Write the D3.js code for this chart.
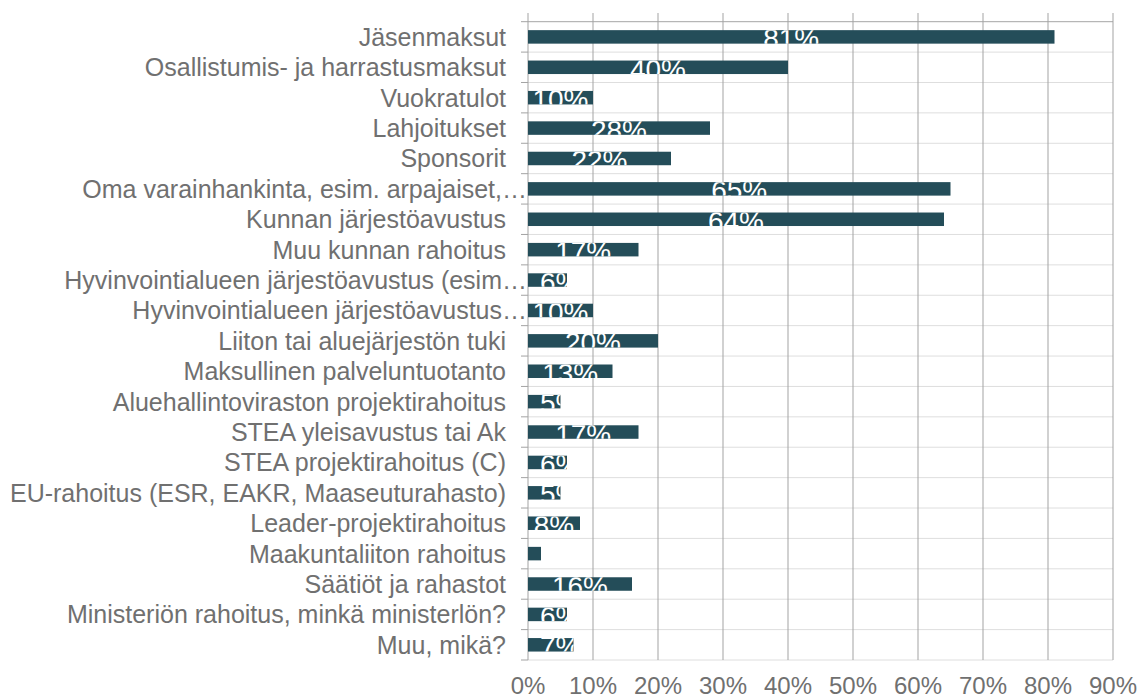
<!DOCTYPE html>
<html>
<head>
<meta charset="utf-8">
<script src="https://cdn.jsdelivr.net/npm/d3@7"></script>
<style>
  body { margin: 0; background: #fff; }
  text { font-family: "Liberation Sans", Arial, sans-serif; }
</style>
</head>
<body>
<div id="chart"></div>
<script>
const categories = [
  "Jäsenmaksut",
  "Osallistumis- ja harrastusmaksut",
  "Vuokratulot",
  "Lahjoitukset",
  "Sponsorit",
  "Oma varainhankinta, esim. arpajaiset,…",
  "Kunnan järjestöavustus",
  "Muu kunnan rahoitus",
  "Hyvinvointialueen järjestöavustus (esim…",
  "Hyvinvointialueen järjestöavustus…",
  "Liiton tai aluejärjestön tuki",
  "Maksullinen palveluntuotanto",
  "Aluehallintoviraston projektirahoitus",
  "STEA yleisavustus tai Ak",
  "STEA projektirahoitus (C)",
  "EU-rahoitus (ESR, EAKR, Maaseuturahasto)",
  "Leader-projektirahoitus",
  "Maakuntaliiton rahoitus",
  "Säätiöt ja rahastot",
  "Ministeriön rahoitus, minkä ministerlön?",
  "Muu, mikä?"
]
const values = [81, 40, 10, 28, 22, 65, 64, 17, 6, 10, 20, 13, 5, 17, 6, 5, 8, 2, 16, 6, 7]
const xTicks = [0, 10, 20, 30, 40, 50, 60, 70, 80, 90]

const data = categories.map((c, i) => ({name: c, value: values[i], i}))

const width = 1139
const height = 698
const mLeft = 528, mRight = 1113, mTop = 21.7, mBottom = 660, gridTop = 13
const barColor = "#244d59"
const textColor = "#707070"

const svg = d3.select("#chart").append("svg")
  .attr("width", width)
  .attr("height", height)

const x = d3.scaleLinear().domain([0, 90]).range([mLeft, mRight])
const y = d3.scaleBand().domain(categories).range([mTop, mBottom])
  .paddingInner(0.556).paddingOuter(0.278)

const step = y.step()
const bounds = d3.range(categories.length + 1).map(i => mTop + i * step)

// horizontal lines at category boundaries
svg.selectAll("line.hgrid")
  .data(bounds)
  .enter()
  .append("line")
    .attr("x1", mLeft).attr("x2", mRight)
    .attr("y1", d => d).attr("y2", d => d)
    .style("stroke", (d, i) => i === 0 ? "#a6a6a6" : "#dedede")
    .style("stroke-width", 1)

// vertical gridlines
svg.selectAll("line.vgrid")
  .data(xTicks)
  .enter()
  .append("line")
    .attr("x1", d => x(d)).attr("x2", d => x(d))
    .attr("y1", gridTop).attr("y2", mBottom)
    .style("stroke", "#a3a3a3")
    .style("stroke-width", 1)

// category tick marks
svg.selectAll("line.ytick")
  .data(bounds)
  .enter()
  .append("line")
    .attr("x1", mLeft - 7).attr("x2", mLeft)
    .attr("y1", d => d).attr("y2", d => d)
    .style("stroke", "#a3a3a3")

const defs = svg.append("defs")
defs.selectAll("clipPath")
  .data(data)
  .enter()
  .append("clipPath")
    .attr("id", d => "clip" + d.i)
  .append("rect")
    .attr("x", x(0))
    .attr("y", d => y(d.name))
    .attr("width", d => x(d.value) - x(0))
    .attr("height", y.bandwidth())

const bar = svg.selectAll("g.bar")
  .data(data)
  .enter()
  .append("g")

bar.append("rect")
  .attr("x", x(0))
  .attr("y", d => y(d.name))
  .attr("width", d => x(d.value) - x(0))
  .attr("height", y.bandwidth())
  .style("fill", barColor)

// value labels, clipped to the bar; too narrow bars get them pushed right
bar.filter(d => d.value >= 3)
  .append("text")
    .attr("clip-path", d => `url(#clip${d.i})`)
    .attr("y", d => y(d.name) + y.bandwidth() / 2 + 11.5)
    .attr("text-anchor", "middle")
    .style("font-size", "28px")
    .style("fill", "white")
    .text(d => d.value + "%")
    .attr("x", function(d) {
      const w = this.getComputedTextLength()
      const bw = x(d.value) - x(0)
      if (bw < w + 8) return x(0) + 12 + w / 2
      return x(d.value / 2)
    })

// category labels
svg.selectAll("text.cat")
  .data(data)
  .enter()
  .append("text")
    .attr("x", d => d.name.endsWith("…") ? mLeft - 1 : mLeft - 22)
    .attr("y", d => y(d.name) + y.bandwidth() / 2 + 9)
    .attr("text-anchor", "end")
    .style("font-size", "25px")
    .style("fill", textColor)
    .text(d => d.name)

// x axis labels
svg.selectAll("text.xlab")
  .data(xTicks)
  .enter()
  .append("text")
    .attr("x", d => x(d))
    .attr("y", 694)
    .attr("text-anchor", "middle")
    .style("font-size", "24px")
    .style("fill", textColor)
    .text(d => d + "%")
</script>
</body>
</html>
